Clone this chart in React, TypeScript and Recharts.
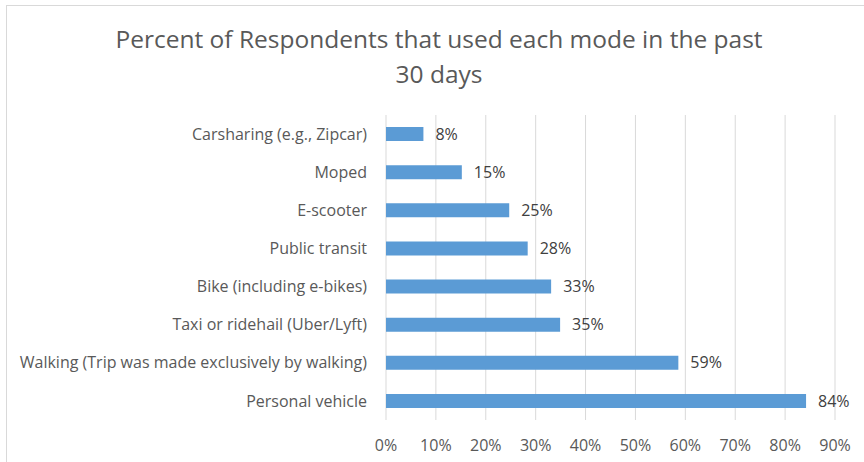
import { BarChart, Bar, XAxis, YAxis, CartesianGrid, LabelList } from "recharts";

const modes = [
	"Carsharing (e.g., Zipcar)",
	"Moped",
	"E-scooter",
	"Public transit",
	"Bike (including e-bikes)",
	"Taxi or ridehail (Uber/Lyft)",
	"Walking (Trip was made exclusively by walking)",
	"Personal vehicle",
];

const percentUsed = [7.5, 15.2, 24.7, 28.4, 33.1, 34.9, 58.6, 84.2];

const xTicks = [0, 10, 20, 30, 40, 50, 60, 70, 80, 90];

const FONT = "'Open Sans', Lato, sans-serif";
const TEXT = "#595959";
const LABEL_SIZE = 16;

const chartData = modes.map((mode, i) => ({ mode, value: percentUsed[i] }));

export default function App() {
	return (
		<div
			style={{
				position: "absolute",
				left: 0,
				top: 0,
				width: 864,
				height: 462,
				background: "#fff",
				overflow: "hidden",
				fontFamily: FONT,
			}}
		>
			{/* chart frame, only left and top edges fall inside the picture */}
			<div
				style={{
					position: "absolute",
					left: 6,
					top: 5,
					width: 900,
					height: 500,
					borderLeft: "1px solid #D9D9D9",
					borderTop: "1px solid #D9D9D9",
				}}
			/>
			<div
				style={{
					position: "absolute",
					left: 0,
					top: 21,
					width: 878,
					textAlign: "center",
					fontSize: 24.5,
					lineHeight: "35px",
					color: TEXT,
				}}
			>
				Percent of Respondents that used each mode in the past
				<br />
				30 days
			</div>
			<BarChart
				width={864}
				height={462}
				data={chartData}
				layout="vertical"
				margin={{ top: 115, right: 29, bottom: 0, left: 0 }}
				barSize={14}
				style={{ position: "absolute", left: 0, top: 0, fontFamily: FONT }}
			>
				<CartesianGrid horizontal={false} stroke="#D9D9D9" strokeWidth={1} />
				<XAxis
					type="number"
					domain={[0, 90]}
					ticks={xTicks}
					height={42}
					tickFormatter={(v: number) => `${v}%`}
					axisLine={false}
					tickLine={false}
					tickSize={0}
					tickMargin={20}
					interval={0}
					tick={{ fill: TEXT, fontSize: LABEL_SIZE }}
				/>
				<YAxis
					type="category"
					dataKey="mode"
					width={386}
					axisLine={false}
					tickLine={false}
					tickSize={0}
					tickMargin={19}
					interval={0}
					tick={{ fill: TEXT, fontSize: LABEL_SIZE }}
				/>
				<Bar dataKey="value" fill="#5B9BD5" isAnimationActive={false}>
					<LabelList
						dataKey="value"
						position="right"
						offset={12}
						formatter={(v: number) => `${Math.round(v)}%`}
						style={{ fill: "#404040", fontSize: LABEL_SIZE }}
					/>
				</Bar>
			</BarChart>
		</div>
	);
}
